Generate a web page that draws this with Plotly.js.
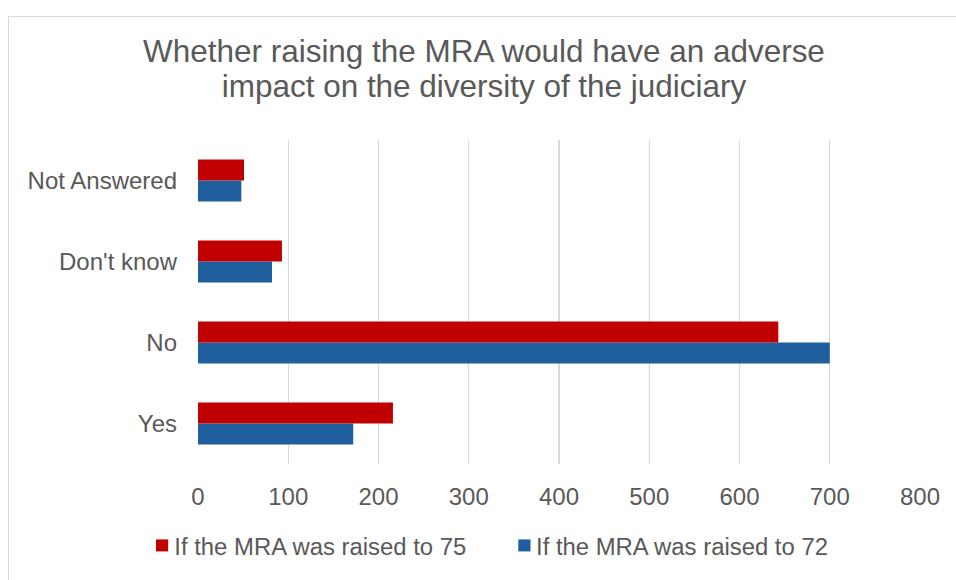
<!DOCTYPE html>
<html>
<head>
<meta charset="utf-8">
<script src="https://cdn.plot.ly/plotly-3.0.1.min.js"></script>
<style>html,body{margin:0;padding:0;background:#fff;}#chart{width:956px;height:580px;}</style>
</head>
<body>
<div id="chart"></div>
<script>
const categories = ["Yes", "No", "Don't know", "Not Answered"];
const raised72 = [172, 700, 82, 48];
const raised75 = [216, 643, 93, 51];
const seriesNames = ["If the MRA was raised to 72", "If the MRA was raised to 75"];
const xTicks = [0, 100, 200, 300, 400, 500, 600, 700, 800];
const titleText = "Whether raising the MRA would have an adverse<br>impact on the diversity of the judiciary";

const FONT = "Liberation Sans, Arial, sans-serif";
const TXT = "#595959";
const TITLE_SIZE = 31;

const traces = [
  {type: "bar", orientation: "h", name: seriesNames[0], y: categories, x: raised72,
   marker: {color: "#1F5F9E"}, hoverinfo: "x+name"},
  {type: "bar", orientation: "h", name: seriesNames[1], y: categories, x: raised75,
   marker: {color: "#C00000"}, hoverinfo: "x+name"}
];

const layout = {
  width: 956, height: 580,
  margin: {l: 198, r: 36, t: 140, b: 108},
  paper_bgcolor: "#ffffff", plot_bgcolor: "#ffffff",
  font: {family: FONT, color: TXT},
  title: {text: titleText, x: 486/956, xanchor: "center", y: 1 - 72/580, yref: "container", yanchor: "middle",
          font: {family: FONT, size: TITLE_SIZE, color: TXT}},
  barmode: "group", bargap: 0.48, bargroupgap: 0,
  showlegend: true,
  legend: {orientation: "h", traceorder: "reversed", x: -0.06, xanchor: "left",
           y: -0.252, yanchor: "middle", bgcolor: "rgba(0,0,0,0)",
           font: {family: FONT, size: 23.5, color: TXT}},
  xaxis: {range: [0, 800], tickvals: xTicks, ticktext: xTicks.map(String),
          showgrid: true, gridcolor: "#D9D9D9", gridwidth: 1.3,
          zeroline: false, showline: false, ticks: "",
          tickfont: {family: FONT, size: 24, color: TXT}, ticklabelstandoff: 16,
          fixedrange: true},
  yaxis: {type: "category", categoryorder: "array", categoryarray: categories,
          showgrid: false, zeroline: false, showline: false, ticks: "",
          tickfont: {family: FONT, size: 24, color: TXT}, ticklabelstandoff: 20,
          fixedrange: true},
  shapes: [{type: "rect", xref: "paper", yref: "paper",
            x0: (8.5-198)/722, x1: (1000-198)/722,
            y0: (472-700)/332, y1: (472-13.5)/332,
            line: {color: "#D9D9D9", width: 1}, fillcolor: "rgba(0,0,0,0)", layer: "below"}]
};

function parseTranslate(el) {
  const m = /translate\(\s*([-\d.e]+)[ ,]+([-\d.e]+)\s*\)/.exec(el.getAttribute("transform") || "");
  return m ? [parseFloat(m[1]), parseFloat(m[2])] : [0, 0];
}

// Fine-tune title line spacing and legend entry spacing to the reference.
function tune() {
  const title = document.querySelector(".gtitle");
  if (title) {
    const lines = title.querySelectorAll("tspan.line");
    if (lines.length > 1) lines[1].setAttribute("dy", "1.12em");
    const b = title.getBBox();
    const s = 682 / b.width;
    const cx = b.x + b.width / 2;
    const baseline1 = b.y + 0.905 * TITLE_SIZE;
    const dy = 62.5 - baseline1;
    title.setAttribute("transform", `translate(${484 - s * cx},${dy}) scale(${s},1)`);
  }
  const leg = document.querySelector("g.legend");
  if (leg) {
    leg.querySelectorAll("[clip-path]").forEach(el => el.removeAttribute("clip-path"));
    const [tx, ty] = parseTranslate(leg);
    const items = Array.from(leg.querySelectorAll("g.traces"));
    const firstText = leg.querySelector(".legendtext");
    if (items.length && firstText) {
      const s = 292 / firstText.getBoundingClientRect().width;
      leg.setAttribute("transform", `translate(${tx},${ty}) scale(${s},1)`);
      const symTargets = [156, 518.3];
      const textTargets = [174.3, 536];
      items.sort((a, b) => a.getBoundingClientRect().left - b.getBoundingClientRect().left);
      items.forEach((it, i) => {
        const sym = it.querySelector(".legendpoints path");
        const txt = it.querySelector(".legendtext");
        if (!sym || !txt) return;
        const [ix, iy] = parseTranslate(it);
        const d1 = (symTargets[i] - sym.getBoundingClientRect().left) / s;
        it.setAttribute("transform", `translate(${ix + d1},${iy})`);
        const d2 = (textTargets[i] - txt.getBoundingClientRect().left) / s;
        txt.setAttribute("x", parseFloat(txt.getAttribute("x") || 0) + d2);
      });
    }
  }
}

Plotly.newPlot("chart", traces, layout, {displayModeBar: false, staticPlot: true}).then(tune);
</script>
</body>
</html>
